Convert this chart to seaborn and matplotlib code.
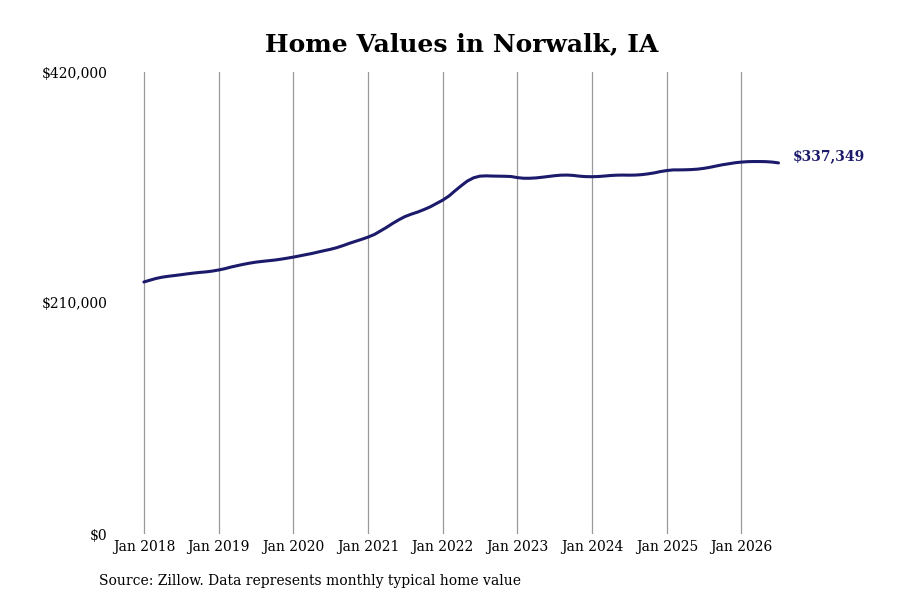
import pandas as pd
import matplotlib
matplotlib.use("Agg")
from matplotlib import pyplot as plt
import matplotlib.dates as mdates
import matplotlib.ticker as mticker
import seaborn as sns

# Monthly typical home values, Jan 2018 - Jul 2026
values_2018 = [229100, 230800, 232300, 233500, 234300, 235000, 235700, 236500, 237200, 237800, 238300, 239000]
values_2019 = [240000, 241200, 242600, 243900, 245100, 246200, 247100, 247800, 248400, 249000, 249800, 250700]
values_2020 = [251700, 252800, 253900, 255000, 256300, 257600, 258800, 260300, 262200, 264200, 266100, 267900]
values_2021 = [269900, 272300, 275300, 278700, 282300, 285700, 288600, 290800, 292700, 294900, 297400, 300400]
values_2022 = [303500, 307300, 311800, 316500, 320800, 323800, 325300, 325600, 325400, 325300, 325200, 325000]
values_2023 = [324000, 323400, 323400, 323700, 324300, 325000, 325700, 326200, 326300, 326000, 325300, 324900]
values_2024 = [324800, 325000, 325400, 325900, 326200, 326300, 326200, 326300, 326700, 327400, 328300, 329500]
values_2025 = [330400, 331000, 331000, 331100, 331300, 331700, 332400, 333400, 334600, 335700, 336600, 337500]
values_2026 = [338100, 338500, 338600, 338600, 338500, 338100, 337349]

yticks = [0, 210000, 420000]
xtick_years = list(range(2018, 2027))

values = (values_2018 + values_2019 + values_2020 + values_2021 + values_2022
          + values_2023 + values_2024 + values_2025 + values_2026)
df = pd.DataFrame({
    "date": pd.date_range("2018-01-01", periods=len(values), freq="MS"),
    "value": values,
})

sns.set_theme(style="white")
plt.rcParams["font.family"] = ["DejaVu Serif"]
plt.rcParams["text.color"] = "black"

navy = "#1b1a6b"

fig = plt.figure(figsize=(9, 6), dpi=100)
ax = fig.add_axes([0.1333, 0.11, 0.7444, 0.77])

sns.lineplot(data=df, x="date", y="value", color=navy, linewidth=2.2, ax=ax)

# x range so Jan 2018 sits a little inside the left edge
ax.set_xlim(pd.Timestamp("2018-01-01") - pd.Timedelta(days=117),
            pd.Timestamp("2018-01-01") + pd.Timedelta(days=3159))
ax.set_ylim(0, 420000)

ax.set_xticks([pd.Timestamp(f"{y}-01-01") for y in xtick_years])
ax.xaxis.set_major_formatter(mdates.DateFormatter("Jan %Y"))
ax.set_yticks(yticks)
ax.yaxis.set_major_formatter(mticker.FuncFormatter(lambda v, p: f"${v:,.0f}"))

ax.grid(axis="x", color="#999999", linewidth=0.9)
ax.grid(axis="y", visible=False)
for s in ax.spines.values():
    s.set_visible(False)
ax.tick_params(axis="both", length=0, labelsize=10, colors="black")
ax.tick_params(axis="x", pad=4)
ax.tick_params(axis="y", pad=9)
ax.set_xlabel("")
ax.set_ylabel("")

# end label
last = df.iloc[-1]
ax.annotate(f"${last['value']:,.0f}", xy=(last["date"], last["value"]),
            xytext=(10, 5), textcoords="offset points",
            fontsize=10, fontweight="bold", color=navy, va="center", ha="left")

fig.text(0.513, 0.927, "Home Values in Norwalk, IA", ha="center", va="center",
         fontsize=18, fontweight="bold", color="black")
fig.text(0.11, 0.031, "Source: Zillow. Data represents monthly typical home value",
         ha="left", va="center", fontsize=10, color="black")

fig.savefig("out.png", dpi=100)
